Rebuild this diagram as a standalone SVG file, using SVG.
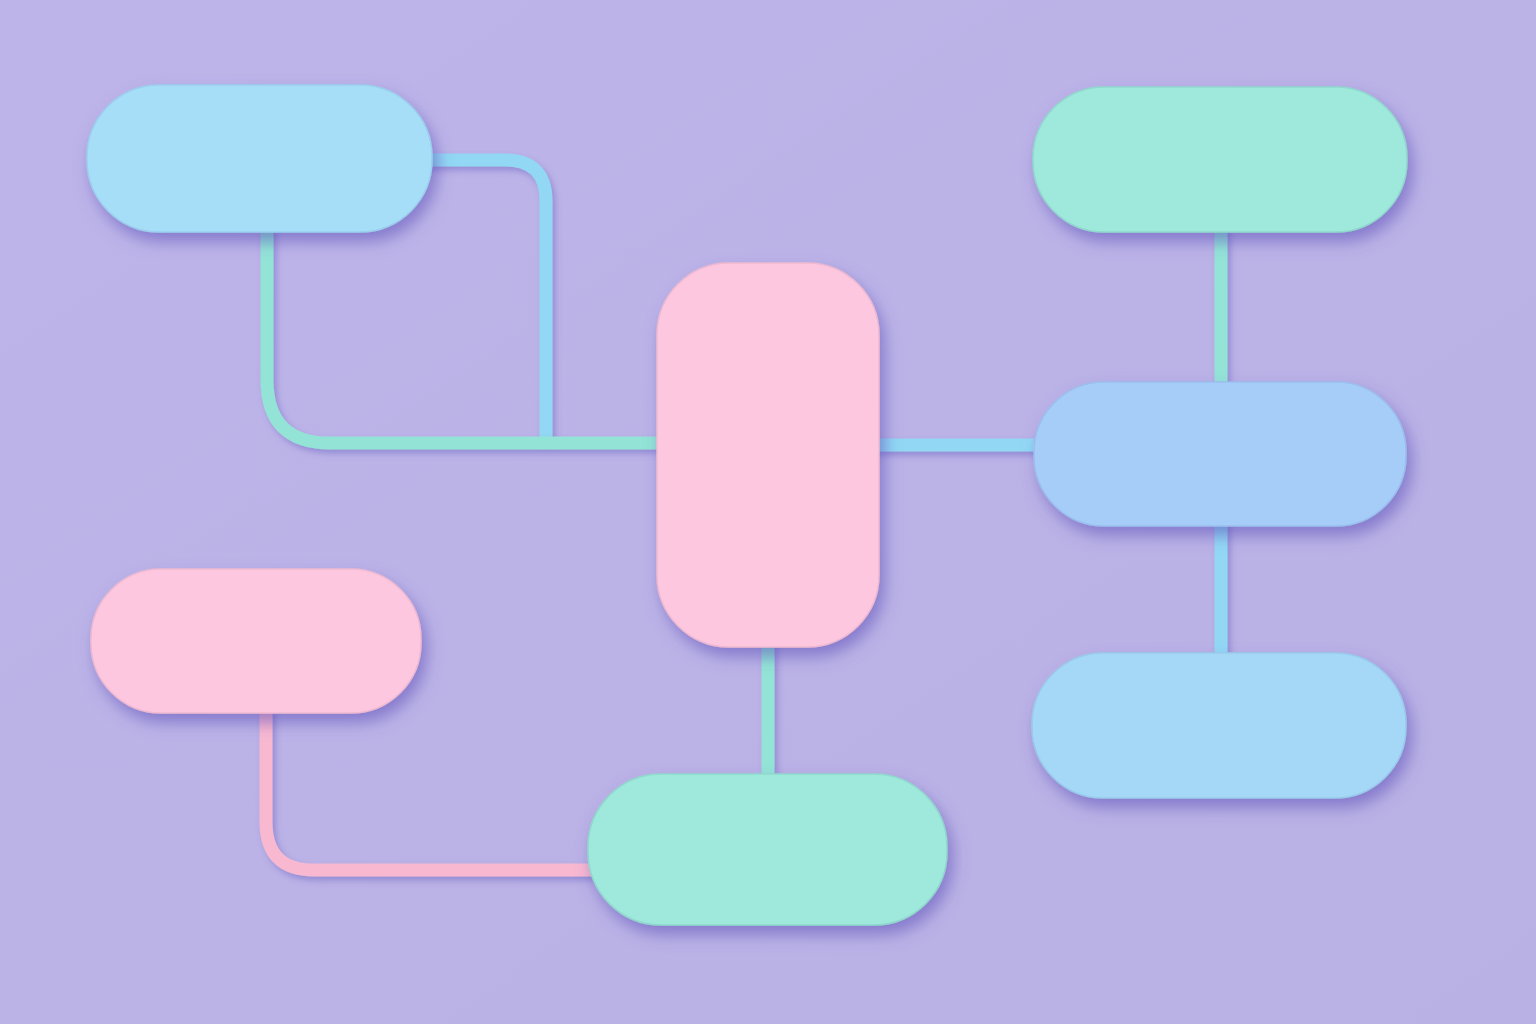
<svg xmlns="http://www.w3.org/2000/svg" width="1536" height="1024" viewBox="0 0 1536 1024">
  <defs>
    <filter id="nodeShadow" x="-20%" y="-30%" width="150%" height="170%">
      <feDropShadow dx="5" dy="9" stdDeviation="8" flood-color="#5A4DB8" flood-opacity="0.55"/>
    </filter>
    <filter id="lineShadow" filterUnits="userSpaceOnUse" x="0" y="0" width="1536" height="1024">
      <feDropShadow dx="3" dy="4" stdDeviation="3" flood-color="#5A4DB8" flood-opacity="0.4"/>
    </filter>
    <linearGradient id="bg" x1="0" y1="0" x2="1" y2="1">
      <stop offset="0" stop-color="#BDB5E9"/>
      <stop offset="1" stop-color="#B9B1E4"/>
    </linearGradient>
  </defs>
  <style>
    .line { fill: none; stroke-width: 13; stroke-linecap: butt; stroke-linejoin: round; filter: url(#lineShadow); }
    .lg { stroke: #93E4D6; }
    .lb { stroke: #92D8F4; }
    .lp { stroke: #F8B8D0; }
    .node { filter: url(#nodeShadow); stroke-width: 1.5; }
    .blue1 { fill: #A6DEF8; stroke: #9BCFEE; }
    .blue2 { fill: #A6CDF8; stroke: #9ABFEE; }
    .blue3 { fill: #A5D8F6; stroke: #99CAEC; }
    .green { fill: #9FE8DC; stroke: #90D8CD; }
    .pink { fill: #FDC8DF; stroke: #F0B9D1; }
  </style>
  <rect width="1536" height="1024" fill="url(#bg)"/>

  <g id="connectors">
    <path class="line lb" d="M425 160 H505 Q546 160 546 201 V440"/>
    <path class="line lg" d="M267 225 V380 Q267 443 330 443 H664"/>
    <path class="line lb" d="M872 445 H1040"/>
    <path class="line lg" d="M1221 225 V388"/>
    <path class="line lb" d="M1221 520 V660"/>
    <path class="line lg" d="M768 640 V782"/>
    <path class="line lp" d="M266 706 V822 Q266 870 314 870 H596"/>
  </g>

  <g id="node-top-left">
    <rect class="node blue1" x="87" y="85" width="345" height="147" rx="72"/>
  </g>
  <g id="node-top-right">
    <rect class="node green" x="1033" y="87" width="374" height="145" rx="71"/>
  </g>
  <g id="node-center">
    <rect class="node pink" x="657" y="263" width="222" height="384" rx="72"/>
  </g>
  <g id="node-right-middle">
    <rect class="node blue2" x="1034" y="382" width="372" height="144" rx="70"/>
  </g>
  <g id="node-right-bottom">
    <rect class="node blue3" x="1032" y="653" width="374" height="145" rx="71"/>
  </g>
  <g id="node-bottom-left">
    <rect class="node pink" x="91" y="569" width="330" height="144" rx="70"/>
  </g>
  <g id="node-bottom-center">
    <rect class="node green" x="588" y="774" width="359" height="151" rx="73"/>
  </g>
</svg>
